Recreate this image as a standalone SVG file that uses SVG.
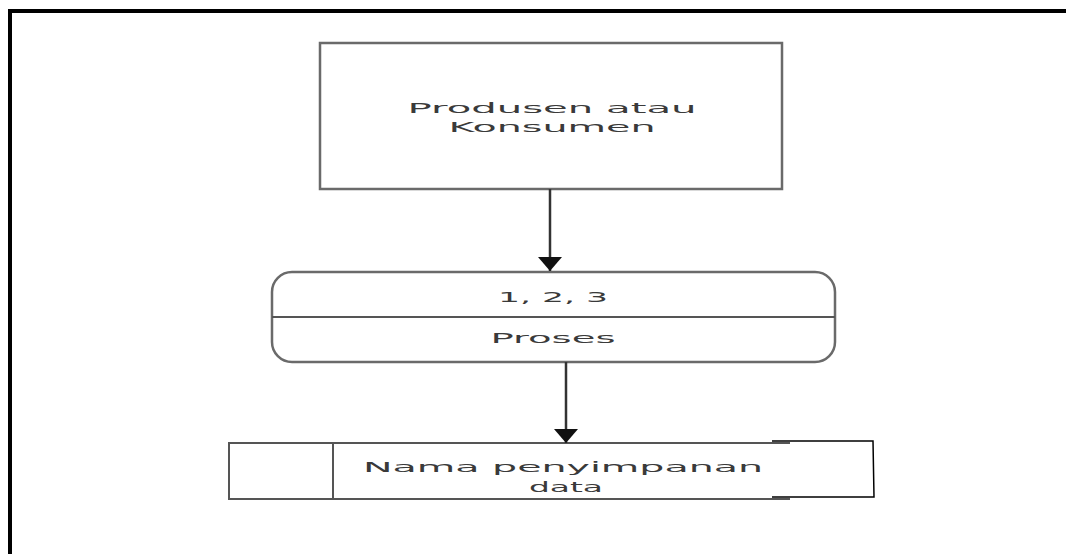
<svg xmlns="http://www.w3.org/2000/svg" width="1066" height="554" viewBox="0 0 1066 554">
<style>
.box{fill:#fff;stroke:#6a6a6a;stroke-width:2.5}
.ln{stroke:#555;stroke-width:2;fill:none}
.conn{stroke:#333;stroke-width:2.5;fill:none}
.t{font-family:"DejaVu Sans",sans-serif;font-size:14px;fill:#3a3a3a;text-anchor:middle}
</style>
<defs>
<marker id="ah2" viewBox="0 0 14 24" refX="14" refY="12" markerWidth="14" markerHeight="24" orient="auto" markerUnits="userSpaceOnUse">
<path d="M0,0 L14,12 L0,24 Z" fill="#111"/>
</marker>
</defs>
<rect width="1066" height="554" fill="#fff"/>
<path d="M10,554 V11 H1066" fill="none" stroke="#000" stroke-width="4"/>
<g id="entity">
<rect class="box" x="320" y="43" width="462" height="146"/>
<text class="t" x="552" y="113" textLength="289" lengthAdjust="spacingAndGlyphs">Produsen atau</text>
<text class="t" x="552" y="132" textLength="207" lengthAdjust="spacingAndGlyphs">Konsumen</text>
</g>
<g id="process">
<rect class="box" x="272" y="272" width="563" height="90" rx="20" ry="20"/>
<line class="ln" x1="272" y1="317" x2="835" y2="317"/>
<text class="t" x="553" y="302" textLength="110" lengthAdjust="spacingAndGlyphs">1, 2, 3</text>
<text class="t" x="553" y="343" textLength="125" lengthAdjust="spacingAndGlyphs">Proses</text>
</g>
<g id="store">
<path class="ln" d="M790,443 H229 V499 H790"/>
<line class="ln" x1="333" y1="443" x2="333" y2="499"/>
<path d="M772,441 H873 L874,497 H772" fill="none" stroke="#000" stroke-width="1.5"/>
<text class="t" x="563" y="472" textLength="400" lengthAdjust="spacingAndGlyphs">Nama penyimpanan</text>
<text class="t" x="566" y="492" textLength="74" lengthAdjust="spacingAndGlyphs">data</text>
</g>
<g id="connectors">
<line class="conn" x1="550" y1="189" x2="550" y2="271" marker-end="url(#ah2)"/>
<line class="conn" x1="566" y1="362" x2="566" y2="443" marker-end="url(#ah2)"/>
</g>
</svg>
